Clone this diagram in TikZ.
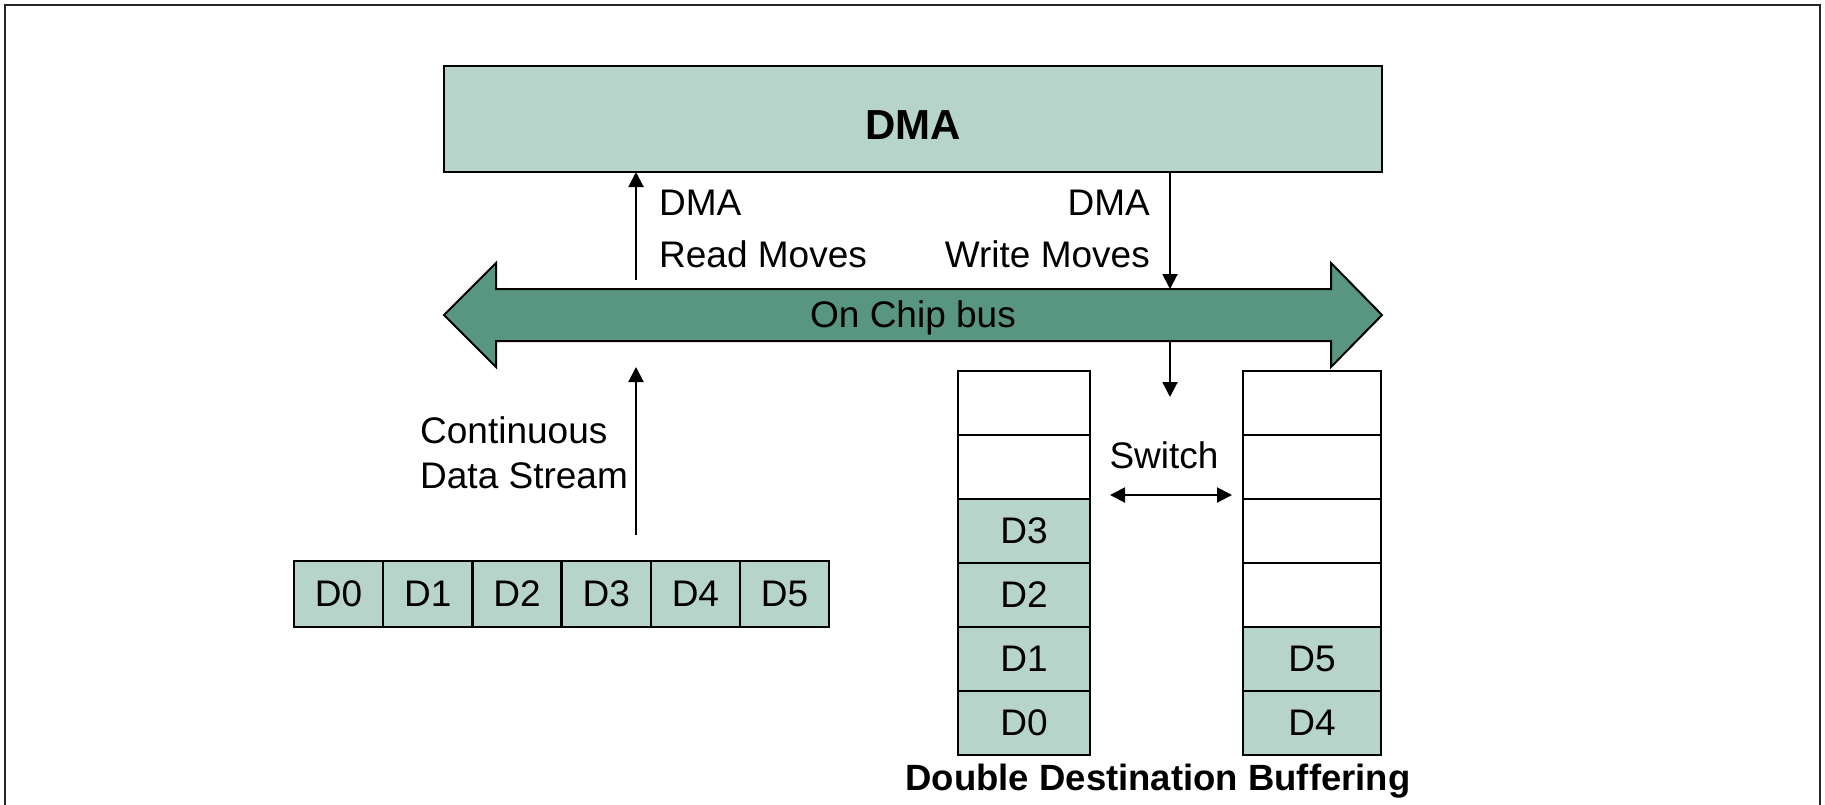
\documentclass[tikz,border=0pt]{standalone}
\usepackage{fontspec}
\setmainfont{Liberation Sans}
\usetikzlibrary{arrows.meta}
\definecolor{lightteal}{RGB}{183,212,203}
\definecolor{busteal}{RGB}{88,150,130}
\begin{document}
\begin{tikzpicture}[x=1pt,y=-1pt,
  box/.style={draw, line width=2.4pt, inner sep=0pt, outer sep=0pt},
  hcell/.style={box, fill=lightteal, minimum width=89.2pt, minimum height=66pt, font=\fontsize{37}{44}\selectfont},
  lcell/.style={box, minimum width=132pt, minimum height=64pt, font=\fontsize{37}{44}\selectfont},
  rcell/.style={box, minimum width=138pt, minimum height=64pt, font=\fontsize{37}{44}\selectfont},
  full/.style={fill=lightteal},
  empty/.style={fill=white},
  lbl/.style={font=\fontsize{37}{44}\selectfont, inner sep=0pt},
  conn/.style={line width=2pt, -{Triangle[width=15pt,length=15pt]}},
  bothconn/.style={line width=2pt, {Triangle[width=15pt,length=15pt]}-{Triangle[width=15pt,length=15pt]}}
]
\useasboundingbox (0,0) rectangle (1825,804);
\fill[white] (0,0) rectangle (1825,804);
\draw[line width=2.5pt, black!85] (5,810) -- (5,5) -- (1820,5) -- (1820,810);

% DMA block
\node[box, fill=lightteal, minimum width=938pt, minimum height=106pt] (dma) at (913,119) {};
\node[inner sep=0pt, anchor=base, font=\bfseries\fontsize{42}{48}\selectfont] (dmat) at (913,139) {DMA};

% On chip bus (double arrow)
\draw[line width=2pt, fill=busteal] (444,315) -- (496,263) -- (496,289) -- (1331,289)
  -- (1331,263) -- (1382,315) -- (1331,367) -- (1331,341) -- (496,341) -- (496,367) -- cycle;
\node[lbl, anchor=base] (bus) at (913,327) {On Chip bus};

% coordinates for connectors
\coordinate (rs) at (636,280);
\coordinate (ws) at (1170,289);
\coordinate (bb) at (1170,341);
\coordinate (bt) at (1170,397);
\coordinate (cs) at (636,535);
\coordinate (ce) at (636,367);
\coordinate (sw1) at (1110,495);
\coordinate (sw2) at (1232,495);

\draw[conn] (rs) -- (rs |- dma.south);
\draw[conn] (ws |- dma.south) -- (ws);
\draw[conn] (bb) -- (bt);
\draw[conn] (cs) -- (ce);
\draw[bothconn] (sw1) -- (sw2);

% labels
\node[lbl, anchor=base west] (rl1) at (659,215) {DMA};
\node[lbl, anchor=base west] (rl2) at (659,267) {Read Moves};
\node[lbl, anchor=base east] (wl1) at (1150,215) {DMA};
\node[lbl, anchor=base east] (wl2) at (1150,267) {Write Moves};
\node[lbl, anchor=base west] (cl1) at (420,443) {Continuous};
\node[lbl, anchor=base west] (cl2) at (420,488) {Data Stream};
\node[lbl, anchor=base] (swl) at (1164,468) {Switch};
\node[lbl, anchor=base, font=\bfseries\fontsize{36.5}{44}\selectfont] (ddb) at (1158,790) {Double Destination Buffering};

% data stream row
\foreach \i in {0,...,5}
  \node[hcell] (r\i) at ({294+89.2*(\i+0.5)},594) {D\i};

% left buffer
\node[lcell, empty] (a0) at (1024,403) {};
\node[lcell, empty] (a1) at (1024,467) {};
\node[lcell, full]  (a2) at (1024,531) {D3};
\node[lcell, full]  (a3) at (1024,595) {D2};
\node[lcell, full]  (a4) at (1024,659) {D1};
\node[lcell, full]  (a5) at (1024,723) {D0};

% right buffer
\node[rcell, empty] (b0) at (1312,403) {};
\node[rcell, empty] (b1) at (1312,467) {};
\node[rcell, empty] (b2) at (1312,531) {};
\node[rcell, empty] (b3) at (1312,595) {};
\node[rcell, full]  (b4) at (1312,659) {D5};
\node[rcell, full]  (b5) at (1312,723) {D4};
\end{tikzpicture}
\end{document}
